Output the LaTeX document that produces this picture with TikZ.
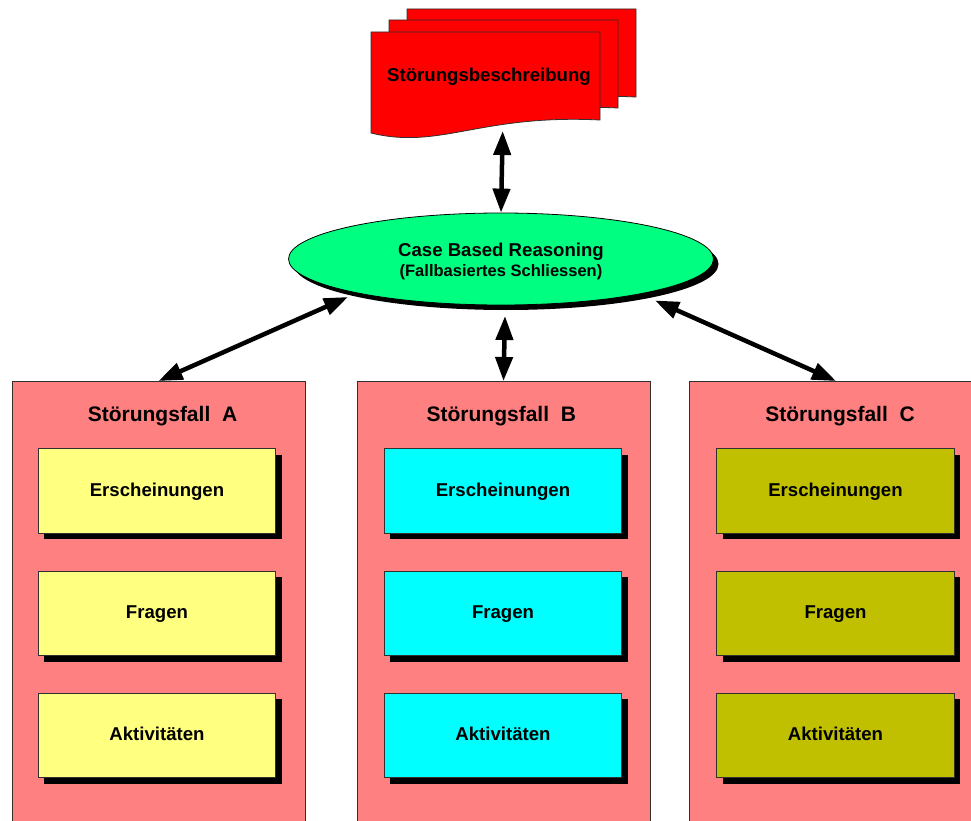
\documentclass[tikz,border=0pt]{standalone}
\usepackage{fontspec}
\setmainfont{Liberation Sans}
\usetikzlibrary{arrows.meta,shapes.geometric,shadows}
\definecolor{docred}{HTML}{FF0000}
\definecolor{cbrgreen}{HTML}{00FF80}
\definecolor{fallpink}{HTML}{FF8080}
\definecolor{boxyellow}{HTML}{FFFF80}
\definecolor{boxcyan}{HTML}{00FFFF}
\definecolor{boxolive}{HTML}{C0C000}
\definecolor{edge}{HTML}{303030}
\begin{document}
\begin{tikzpicture}[x=1pt,y=-1pt,
  lbl/.style={font=\bfseries\fontsize{18.6}{22}\selectfont, inner sep=0pt},
  ttl/.style={font=\bfseries\fontsize{21}{25}\selectfont, inner sep=0pt, anchor=base},
  sub/.style={font=\bfseries\fontsize{16.5}{20}\selectfont, inner sep=0pt, anchor=base},
  sheet/.style={draw=edge, line width=0.8pt, fill=docred},
  fallbox/.style={draw=edge, line width=1pt, fill=fallpink, anchor=north,
    minimum width=293pt, minimum height=520pt, inner sep=0pt},
  itembox/.style={draw=edge, line width=0.8pt, minimum width=237.5pt, minimum height=84.5pt,
    inner sep=0pt, text height=13pt, text depth=3pt,
    font=\bfseries\fontsize{18.6}{22}\selectfont,
    drop shadow={opacity=1, fill=black, shadow xshift=6pt, shadow yshift=-6pt}},
  dbl/.style={line width=4.5pt,
    {Triangle[length=24pt,width=17pt]}-{Triangle[length=24pt,width=17pt]}}]
\useasboundingbox (0,0) rectangle (971,821);
\clip (0,0) rectangle (971,821);
% document stack
\foreach \dx/\dy in {36/-23, 18/-12, 0/0}{
  \begin{scope}[shift={(\dx,\dy)}]
    \path[sheet] (371,32) -- (600,32) -- (600,120)
      .. controls (480,114) and (440,150) .. (371,133) -- cycle;
  \end{scope}
}
\node[font=\bfseries\fontsize{18.6}{22}\selectfont, inner sep=0pt, anchor=base] (doc) at (489,82) {Störungsbeschreibung};
\coordinate (docb) at (502.7,131);
% CBR ellipse
\node[ellipse, draw=black, line width=0.8pt, fill=cbrgreen, minimum width=425pt, minimum height=92pt,
  inner sep=0pt, drop shadow={opacity=1, fill=black, shadow xshift=5pt, shadow yshift=-5pt}] (cbr) at (501,259) {};
\node[font=\bfseries\fontsize{18.6}{22}\selectfont, inner sep=0pt, anchor=base] (cbrt1) at (501,256) {Case Based Reasoning};
\node[sub] (cbrt2) at (501,276) {(Fallbasiertes Schliessen)};
\coordinate (cbrA) at (348,297);
\coordinate (cbrB) at (505,316);
\coordinate (cbrC) at (655,300.5);
% Störungsfall boxes
\node[fallbox] (fallA) at (158.5,381) {};
\node[fallbox] (fallB) at (503.5,381) {};
\node[fallbox] (fallC) at (836,381) {};
\node[ttl] (tA) at (162.5,421) {Störungsfall\ \ A};
\node[ttl] (tB) at (501.3,421) {Störungsfall\ \ B};
\node[ttl] (tC) at (840,421) {Störungsfall\ \ C};
% item boxes
\foreach \col/\x in {boxyellow/157, boxcyan/503, boxolive/835.5}{
  \node[itembox, fill=\col] (e\x) at (\x,491) {Erscheinungen};
  \node[itembox, fill=\col] (f\x) at (\x,613.5) {Fragen};
  \node[itembox, fill=\col] (a\x) at (\x,735.5) {Aktivitäten};
}
% connectors
\draw[dbl] (docb) -- (cbr.north);
\draw[dbl] (cbrA) -- (fallA.north);
\draw[dbl] (cbrB) -- (fallB.north);
\draw[dbl] (cbrC) -- (fallC.north);
\end{tikzpicture}
\end{document}
